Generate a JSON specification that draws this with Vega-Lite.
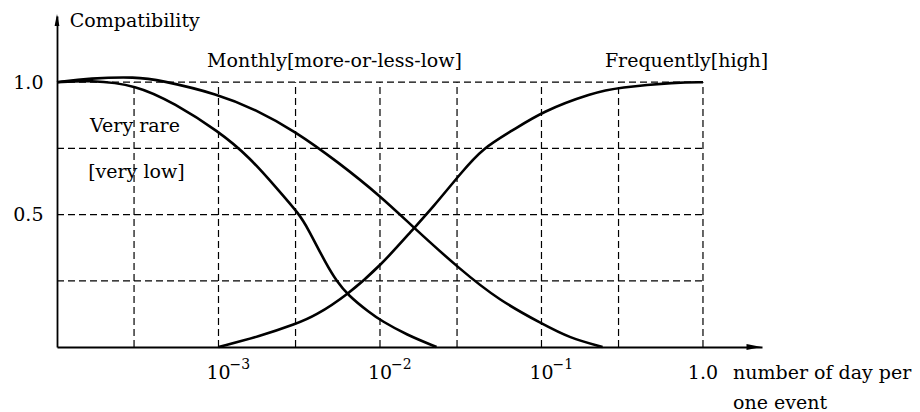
{
  "$schema": "https://vega.github.io/schema/vega-lite/v6.json",
  "width": 705,
  "height": 331,
  "autosize": {"type": "none"},
  "padding": {"left": 57, "top": 16, "right": 158, "bottom": 65},
  "background": "white",
  "config": {"view": {"stroke": null}, "font": "DejaVu Serif", "text": {"font": "DejaVu Serif", "fontSize": 19, "color": "black"}},
  "datasets": {
    "curves": [
      {"series": "Very rare", "x": 0.0001, "y": 1.0},
      {"series": "Very rare", "x": 0.000159, "y": 1.008},
      {"series": "Very rare", "x": 0.00031, "y": 0.99},
      {"series": "Very rare", "x": 0.000534, "y": 0.92},
      {"series": "Very rare", "x": 0.001, "y": 0.815},
      {"series": "Very rare", "x": 0.001556, "y": 0.717},
      {"series": "Very rare", "x": 0.00229, "y": 0.6},
      {"series": "Very rare", "x": 0.00318, "y": 0.5},
      {"series": "Very rare", "x": 0.00356, "y": 0.45},
      {"series": "Very rare", "x": 0.00467, "y": 0.31},
      {"series": "Very rare", "x": 0.00538, "y": 0.25},
      {"series": "Very rare", "x": 0.0063, "y": 0.197},
      {"series": "Very rare", "x": 0.00861, "y": 0.13},
      {"series": "Very rare", "x": 0.0102, "y": 0.099},
      {"series": "Very rare", "x": 0.0146, "y": 0.046},
      {"series": "Very rare", "x": 0.0224, "y": 0.0},
      {"series": "Monthly", "x": 0.0001, "y": 1.0},
      {"series": "Monthly", "x": 0.000159, "y": 1.015},
      {"series": "Monthly", "x": 0.00031, "y": 1.02},
      {"series": "Monthly", "x": 0.000432, "y": 1.008},
      {"series": "Monthly", "x": 0.001, "y": 0.955},
      {"series": "Monthly", "x": 0.00172, "y": 0.895},
      {"series": "Monthly", "x": 0.00296, "y": 0.816},
      {"series": "Monthly", "x": 0.00546, "y": 0.7},
      {"series": "Monthly", "x": 0.0102, "y": 0.567},
      {"series": "Monthly", "x": 0.0159, "y": 0.455},
      {"series": "Monthly", "x": 0.031, "y": 0.295},
      {"series": "Monthly", "x": 0.055, "y": 0.175},
      {"series": "Monthly", "x": 0.1014, "y": 0.087},
      {"series": "Monthly", "x": 0.149, "y": 0.034},
      {"series": "Monthly", "x": 0.239, "y": 0.0},
      {"series": "Frequently", "x": 0.001, "y": 0.0},
      {"series": "Frequently", "x": 0.0018, "y": 0.04},
      {"series": "Frequently", "x": 0.00304, "y": 0.088},
      {"series": "Frequently", "x": 0.00393, "y": 0.116},
      {"series": "Frequently", "x": 0.0063, "y": 0.197},
      {"series": "Frequently", "x": 0.0102, "y": 0.31},
      {"series": "Frequently", "x": 0.0159, "y": 0.443},
      {"series": "Frequently", "x": 0.0211, "y": 0.525},
      {"series": "Frequently", "x": 0.032, "y": 0.66},
      {"series": "Frequently", "x": 0.0431, "y": 0.75},
      {"series": "Frequently", "x": 0.066, "y": 0.817},
      {"series": "Frequently", "x": 0.1014, "y": 0.89},
      {"series": "Frequently", "x": 0.207, "y": 0.96},
      {"series": "Frequently", "x": 0.3, "y": 0.98},
      {"series": "Frequently", "x": 0.685, "y": 1.0},
      {"series": "Frequently", "x": 1.0, "y": 1.0}
    ],
    "hgrid": [{"y": 0.25}, {"y": 0.5}, {"y": 0.75}, {"y": 1.0}],
    "vgrid": [{"x": 0.0003}, {"x": 0.001}, {"x": 0.003}, {"x": 0.01}, {"x": 0.03}, {"x": 0.1}, {"x": 0.3}, {"x": 1.0}],
    "ticklabels": [
      {"x": 0.001, "base": "10", "sup": "−3"},
      {"x": 0.01, "base": "10", "sup": "−2"},
      {"x": 0.1, "base": "10", "sup": "−1"}
    ],
    "leftlabels": [
      {"x": 0.00012, "y": 1.232, "t": "Compatibility"},
      {"x": 0.00085, "y": 1.08, "t": "Monthly[more-or-less-low]"},
      {"x": 0.247, "y": 1.08, "t": "Frequently[high]"},
      {"x": 1.535, "y": -0.098, "t": "number of day per"},
      {"x": 1.535, "y": -0.211, "t": "one event"}
    ],
    "centerlabels": [
      {"x": 0.000304, "y": 0.835, "t": "Very rare"},
      {"x": 0.00031, "y": 0.661, "t": "[very low]"},
      {"x": 1.0, "y": -0.098, "t": "1.0"}
    ],
    "arrowsup": [{"x": 0.0001, "y": 1.235}],
    "arrowsright": [{"x": 2.07, "y": 0}]
  },
  "layer": [
    {
      "data": {"name": "hgrid"},
      "mark": {"type": "rule", "color": "black", "strokeWidth": 1.2, "strokeDash": [7, 4]},
      "encoding": {
        "x": {"datum": 0.0001, "type": "quantitative", "scale": {"type": "log", "domain": [0.0001, 2.32], "nice": false}, "axis": {"domain": true, "domainColor": "black", "domainWidth": 1.8, "ticks": false, "labels": false, "grid": false, "title": null}},
        "x2": {"datum": 1.0},
        "y": {"field": "y", "type": "quantitative", "scale": {"domain": [0, 1.25], "nice": false, "zero": false}, "axis": {"values": [0.5, 1.0], "format": ".1f", "ticks": false, "grid": false, "domain": true, "domainColor": "black", "domainWidth": 1.8, "labelFontSize": 19, "labelFont": "DejaVu Serif", "labelColor": "black", "labelPadding": 14, "title": null}}
      }
    },
    {
      "data": {"name": "vgrid"},
      "mark": {"type": "rule", "color": "black", "strokeWidth": 1.2, "strokeDash": [7, 4]},
      "encoding": {
        "x": {"field": "x", "type": "quantitative", "scale": {"type": "log", "domain": [0.0001, 2.32], "nice": false}, "axis": {"domain": true, "domainColor": "black", "domainWidth": 1.8, "ticks": false, "labels": false, "grid": false, "title": null}},
        "y": {"datum": 0, "type": "quantitative", "scale": {"domain": [0, 1.25], "nice": false, "zero": false}, "axis": {"values": [0.5, 1.0], "format": ".1f", "ticks": false, "grid": false, "domain": true, "domainColor": "black", "domainWidth": 1.8, "labelFontSize": 19, "labelFont": "DejaVu Serif", "labelColor": "black", "labelPadding": 14, "title": null}},
        "y2": {"datum": 1.0}
      }
    },
    {
      "data": {"name": "curves"},
      "mark": {"type": "line", "color": "black", "strokeWidth": 2.6, "interpolate": "basis"},
      "encoding": {
        "x": {"field": "x", "type": "quantitative", "scale": {"type": "log", "domain": [0.0001, 2.32], "nice": false}, "axis": {"domain": true, "domainColor": "black", "domainWidth": 1.8, "ticks": false, "labels": false, "grid": false, "title": null}},
        "y": {"field": "y", "type": "quantitative", "scale": {"domain": [0, 1.25], "nice": false, "zero": false}, "axis": {"values": [0.5, 1.0], "format": ".1f", "ticks": false, "grid": false, "domain": true, "domainColor": "black", "domainWidth": 1.8, "labelFontSize": 19, "labelFont": "DejaVu Serif", "labelColor": "black", "labelPadding": 14, "title": null}},
        "detail": {"field": "series"}
      }
    },
    {
      "data": {"name": "ticklabels"},
      "mark": {"type": "text", "align": "center", "baseline": "middle", "dy": 26, "fontSize": 19},
      "encoding": {
        "x": {"field": "x", "type": "quantitative", "scale": {"type": "log", "domain": [0.0001, 2.32], "nice": false}, "axis": {"domain": true, "domainColor": "black", "domainWidth": 1.8, "ticks": false, "labels": false, "grid": false, "title": null}},
        "y": {"datum": 0, "type": "quantitative", "scale": {"domain": [0, 1.25], "nice": false, "zero": false}, "axis": {"values": [0.5, 1.0], "format": ".1f", "ticks": false, "grid": false, "domain": true, "domainColor": "black", "domainWidth": 1.8, "labelFontSize": 19, "labelFont": "DejaVu Serif", "labelColor": "black", "labelPadding": 14, "title": null}},
        "text": {"field": "base"}
      }
    },
    {
      "data": {"name": "ticklabels"},
      "mark": {"type": "text", "align": "left", "baseline": "middle", "dx": 11, "dy": 18, "fontSize": 14},
      "encoding": {
        "x": {"field": "x", "type": "quantitative", "scale": {"type": "log", "domain": [0.0001, 2.32], "nice": false}, "axis": {"domain": true, "domainColor": "black", "domainWidth": 1.8, "ticks": false, "labels": false, "grid": false, "title": null}},
        "y": {"datum": 0, "type": "quantitative", "scale": {"domain": [0, 1.25], "nice": false, "zero": false}, "axis": {"values": [0.5, 1.0], "format": ".1f", "ticks": false, "grid": false, "domain": true, "domainColor": "black", "domainWidth": 1.8, "labelFontSize": 19, "labelFont": "DejaVu Serif", "labelColor": "black", "labelPadding": 14, "title": null}},
        "text": {"field": "sup"}
      }
    },
    {
      "data": {"name": "leftlabels"},
      "mark": {"type": "text", "align": "left", "baseline": "middle", "fontSize": 19},
      "encoding": {
        "x": {"field": "x", "type": "quantitative", "scale": {"type": "log", "domain": [0.0001, 2.32], "nice": false}, "axis": {"domain": true, "domainColor": "black", "domainWidth": 1.8, "ticks": false, "labels": false, "grid": false, "title": null}},
        "y": {"field": "y", "type": "quantitative", "scale": {"domain": [0, 1.25], "nice": false, "zero": false}, "axis": {"values": [0.5, 1.0], "format": ".1f", "ticks": false, "grid": false, "domain": true, "domainColor": "black", "domainWidth": 1.8, "labelFontSize": 19, "labelFont": "DejaVu Serif", "labelColor": "black", "labelPadding": 14, "title": null}},
        "text": {"field": "t"}
      }
    },
    {
      "data": {"name": "centerlabels"},
      "mark": {"type": "text", "align": "center", "baseline": "middle", "fontSize": 19},
      "encoding": {
        "x": {"field": "x", "type": "quantitative", "scale": {"type": "log", "domain": [0.0001, 2.32], "nice": false}, "axis": {"domain": true, "domainColor": "black", "domainWidth": 1.8, "ticks": false, "labels": false, "grid": false, "title": null}},
        "y": {"field": "y", "type": "quantitative", "scale": {"domain": [0, 1.25], "nice": false, "zero": false}, "axis": {"values": [0.5, 1.0], "format": ".1f", "ticks": false, "grid": false, "domain": true, "domainColor": "black", "domainWidth": 1.8, "labelFontSize": 19, "labelFont": "DejaVu Serif", "labelColor": "black", "labelPadding": 14, "title": null}},
        "text": {"field": "t"}
      }
    },
    {
      "data": {"name": "arrowsup"},
      "mark": {"type": "point", "shape": "M-0.4,1L0,-1L0.4,1Z", "filled": true, "color": "black", "size": 144, "opacity": 1},
      "encoding": {
        "x": {"field": "x", "type": "quantitative", "scale": {"type": "log", "domain": [0.0001, 2.32], "nice": false}, "axis": {"domain": true, "domainColor": "black", "domainWidth": 1.8, "ticks": false, "labels": false, "grid": false, "title": null}},
        "y": {"field": "y", "type": "quantitative", "scale": {"domain": [0, 1.25], "nice": false, "zero": false}, "axis": {"values": [0.5, 1.0], "format": ".1f", "ticks": false, "grid": false, "domain": true, "domainColor": "black", "domainWidth": 1.8, "labelFontSize": 19, "labelFont": "DejaVu Serif", "labelColor": "black", "labelPadding": 14, "title": null}}
      }
    },
    {
      "data": {"name": "arrowsright"},
      "mark": {"type": "point", "shape": "M-1,-0.4L1,0L-1,0.4Z", "filled": true, "color": "black", "size": 225, "opacity": 1},
      "encoding": {
        "x": {"field": "x", "type": "quantitative", "scale": {"type": "log", "domain": [0.0001, 2.32], "nice": false}, "axis": {"domain": true, "domainColor": "black", "domainWidth": 1.8, "ticks": false, "labels": false, "grid": false, "title": null}},
        "y": {"field": "y", "type": "quantitative", "scale": {"domain": [0, 1.25], "nice": false, "zero": false}, "axis": {"values": [0.5, 1.0], "format": ".1f", "ticks": false, "grid": false, "domain": true, "domainColor": "black", "domainWidth": 1.8, "labelFontSize": 19, "labelFont": "DejaVu Serif", "labelColor": "black", "labelPadding": 14, "title": null}}
      }
    }
  ]
}
